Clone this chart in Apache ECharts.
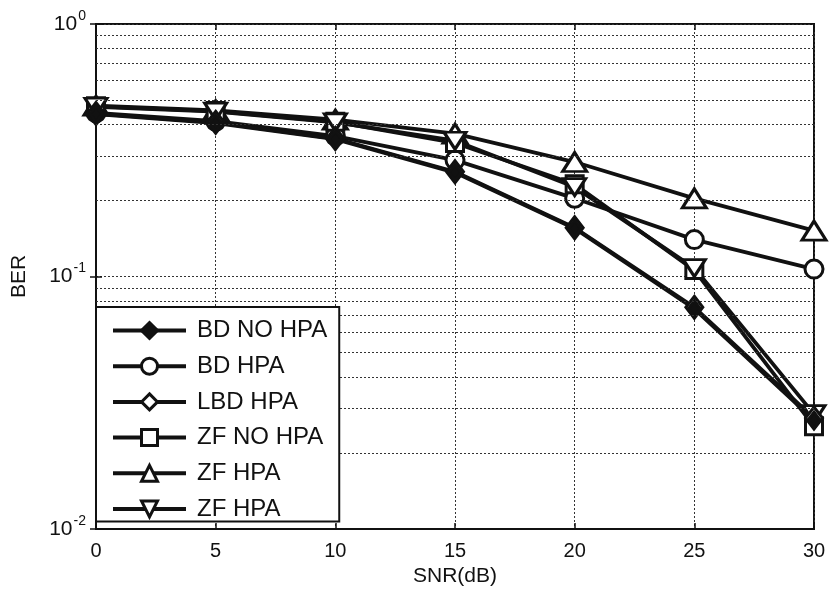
<!DOCTYPE html>
<html>
<head>
<meta charset="utf-8">
<script src="https://cdn.jsdelivr.net/npm/echarts@6/dist/echarts.min.js"></script>
<style>
  html, body { margin: 0; padding: 0; background: #fff; }
  #chart { width: 833px; height: 603px; }
</style>
</head>
<body>
<div id="chart"></div>
<script>
// SNR (dB) on x, BER on y (log)
const snr = [0, 5, 10, 15, 20, 25, 30];

const bdNoHpa  = [0.440, 0.405, 0.350, 0.258, 0.155, 0.0745, 0.0270];
const bdHpa    = [0.445, 0.412, 0.360, 0.289, 0.204, 0.140, 0.107];
const lbdHpa   = [0.442, 0.408, 0.352, 0.260, 0.156, 0.0755, 0.0275];
const zfNoHpa  = [0.472, 0.452, 0.410, 0.338, 0.232, 0.106, 0.0255];
const zfHpa    = [0.475, 0.455, 0.418, 0.368, 0.284, 0.204, 0.152];
const zfHpa2   = [0.470, 0.450, 0.408, 0.345, 0.226, 0.108, 0.0285];

const seriesNames = ["BD NO HPA", "BD HPA", "LBD HPA", "ZF NO HPA", "ZF HPA", "ZF HPA "];

// minor log grid lines (2..9 x each decade)
const minorGrid = [0.02, 0.03, 0.04, 0.05, 0.06, 0.07, 0.08, 0.09,
                   0.2, 0.3, 0.4, 0.5, 0.6, 0.7, 0.8, 0.9];

const FONT = "Liberation Sans, Arial, sans-serif";
const INK = "#111";

const chart = echarts.init(document.getElementById("chart"), null, { renderer: "canvas" });

const pairs = (ys) => snr.map((x, i) => [x, ys[i]]);

function lineSeries(name, ys, symbol, size, filled) {
  return {
    name: name,
    type: "line",
    data: pairs(ys),
    symbol: symbol,
    symbolSize: size,
    showAllSymbol: true,
    lineStyle: { color: INK, width: 3.8 },
    itemStyle: { color: filled ? INK : "#fff", borderColor: INK, borderWidth: 3 },
    emphasis: { disabled: true },
    animation: false,
    z: 3
  };
}

const option = {
  animation: false,
  backgroundColor: "#fff",
  grid: {
    left: 96, right: 19, top: 24, bottom: 74,
    show: true, borderColor: INK, borderWidth: 2, backgroundColor: "#fff"
  },
  legend: {
    orient: "vertical",
    left: 96, top: 307,
    padding: [11, 12, 0, 15],
    backgroundColor: "#fff",
    borderColor: INK, borderWidth: 2,
    itemWidth: 73, itemHeight: 20, itemGap: 10.7,
    lineStyle: { width: 4 },
    itemStyle: { borderWidth: 3 },
    textStyle: { fontFamily: FONT, fontSize: 24, color: INK, padding: [0, 0, 0, 6], lineHeight: 25 },
    data: seriesNames,
    z: 10
  },
  xAxis: [{
    type: "value", min: 0, max: 30, interval: 5,
    name: "SNR(dB)", nameLocation: "middle", nameGap: 33,
    nameTextStyle: { fontFamily: FONT, fontSize: 21, color: INK },
    axisLine: { show: true, lineStyle: { color: INK, width: 2 } },
    axisTick: { show: true, inside: true, length: 6, lineStyle: { color: INK, width: 1.5 } },
    axisLabel: { fontFamily: FONT, fontSize: 20, color: INK, margin: 12 },
    splitLine: { show: true, lineStyle: { color: "#333", width: 1, type: [2, 2] } }
  }, {
    type: "value", min: 0, max: 30, interval: 5, position: "top",
    axisLine: { show: false },
    axisTick: { show: true, inside: true, length: 6, lineStyle: { color: INK, width: 1.5 } },
    axisLabel: { show: false }, splitLine: { show: false }
  }],
  yAxis: [{
    type: "log", logBase: 10, min: 0.01, max: 1,
    name: "BER", nameLocation: "middle", nameGap: 66,
    nameTextStyle: { fontFamily: FONT, fontSize: 21, color: INK },
    axisLine: { show: true, lineStyle: { color: INK, width: 2 } },
    axisTick: { show: true, inside: true, length: 6, lineStyle: { color: INK, width: 1.5 } },
    axisLabel: {
      margin: 10,
      formatter: (v) => "{b|10}{s|" + Math.round(Math.log10(v)) + "}",
      rich: {
        b: { fontFamily: FONT, fontSize: 21, color: INK },
        s: { fontFamily: FONT, fontSize: 14, color: INK, verticalAlign: "bottom", padding: [0, 0, 16, 1] }
      }
    },
    splitLine: { show: true, lineStyle: { color: "#333", width: 1, type: [2, 2] } }
  }, {
    type: "log", logBase: 10, min: 0.01, max: 1, position: "right",
    axisLine: { show: false },
    axisTick: { show: true, inside: true, length: 6, lineStyle: { color: INK, width: 1.5 } },
    axisLabel: { show: false }, splitLine: { show: false }
  }],
  series: [
    {
      name: "grid",
      type: "line",
      data: [],
      silent: true,
      markLine: {
        silent: true, symbol: "none", label: { show: false }, animation: false,
        lineStyle: { color: "#333", width: 1, type: [2, 2] },
        data: minorGrid.map((v) => ({ yAxis: v }))
      },
      z: 1
    },
    lineSeries(seriesNames[1], bdHpa, "circle", 18, false),
    lineSeries(seriesNames[4], zfHpa, "triangle", [24, 19], false),
    lineSeries(seriesNames[3], zfNoHpa, "rect", 17, false),
    lineSeries(seriesNames[5], zfHpa2, "path://M0,0 L10,0 L5,8 Z", [22, 17], false),
    lineSeries(seriesNames[2], lbdHpa, "diamond", [17, 22], false),
    lineSeries(seriesNames[0], bdNoHpa, "diamond", [12, 16], true)
  ]
};

chart.setOption(option);
</script>
</body>
</html>
